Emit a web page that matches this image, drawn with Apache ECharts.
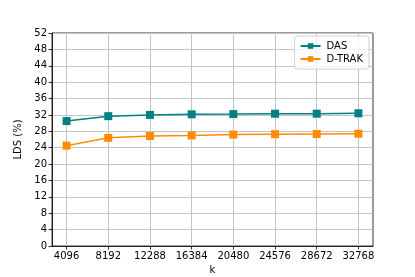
<!DOCTYPE html>
<html><head><meta charset="utf-8">
<script src="https://cdn.jsdelivr.net/npm/echarts@6/dist/echarts.min.js"></script>
<style>html,body{margin:0;padding:0;background:#fff}#c{width:415px;height:277px}</style>
</head><body><div id="c"></div>
<script>
const kValues = [4096, 8192, 12288, 16384, 20480, 24576, 28672, 32768];
const dasValues = [30.5, 31.7, 32.0, 32.15, 32.2, 32.3, 32.3, 32.4];
const dtrakValues = [24.5, 26.4, 26.85, 27.0, 27.2, 27.3, 27.35, 27.4];
const yTicks = [0, 4, 8, 12, 16, 20, 24, 28, 32, 36, 40, 44, 48, 52];

const span = kValues[kValues.length - 1] - kValues[0];
const xMin = kValues[0] - span * 0.05;
const xMax = kValues[kValues.length - 1] + span * 0.05;
const font = 'DejaVu Sans';
const chart = echarts.init(document.getElementById('c'));
chart.setOption({
  animation: false,
  textStyle: { fontFamily: font },
  grid: { left: 52, right: 42, top: 33, bottom: 31, containLabel: false, outerBoundsMode: 'none',
    show: true, borderColor: '#000', borderWidth: 0.8, backgroundColor: 'transparent' },
  legend: {
    right: 46, top: 36, orient: 'vertical', itemGap: 3, itemWidth: 20, itemHeight: 7,
    backgroundColor: 'rgba(255,255,255,0.8)', borderColor: '#d0d0d0', borderWidth: 1, borderRadius: 3, padding: [5, 6, 5, 5],
    textStyle: { fontFamily: font, fontSize: 10, color: '#000', padding: [0, 0, 0, 1] },
    data: ['DAS', 'D-TRAK']
  },
  xAxis: {
    type: 'value', min: xMin, max: xMax, name: 'k', nameLocation: 'middle', nameGap: 19,
    nameTextStyle: { fontFamily: font, fontSize: 10, color: '#000' },
    axisLine: { show: true, lineStyle: { color: '#000', width: 0.8 } },
    axisTick: { show: true, customValues: kValues, length: 3.5, lineStyle: { color: '#000', width: 0.8 } },
    axisLabel: { customValues: kValues, fontSize: 10, color: '#000', margin: 5, fontFamily: font, formatter: v => String(v) },
    splitLine: { show: true, lineStyle: { color: '#c4c4c4', width: 1 } }
  },
  yAxis: {
    type: 'value', min: 0, max: 52, interval: 4, name: 'LDS (%)', nameLocation: 'middle', nameGap: 22,
    nameTextStyle: { fontFamily: font, fontSize: 10, color: '#000' },
    axisLine: { show: true, lineStyle: { color: '#000', width: 0.8 } },
    axisTick: { show: true, length: 3.5, lineStyle: { color: '#000', width: 0.8 } },
    axisLabel: { fontSize: 10, color: '#000', margin: 5, fontFamily: font },
    splitLine: { show: true, lineStyle: { color: '#c4c4c4', width: 1 } }
  },
  series: [
    { name: 'DAS', type: 'line', data: kValues.map((k, i) => [k, dasValues[i]]), symbol: 'rect', symbolSize: 8,
      itemStyle: { color: '#008080' }, lineStyle: { color: '#008080', width: 1.5 } },
    { name: 'D-TRAK', type: 'line', data: kValues.map((k, i) => [k, dtrakValues[i]]), symbol: 'rect', symbolSize: 8,
      itemStyle: { color: '#ff8c00' }, lineStyle: { color: '#ff8c00', width: 1.5 } }
  ]
});
</script></body></html>
